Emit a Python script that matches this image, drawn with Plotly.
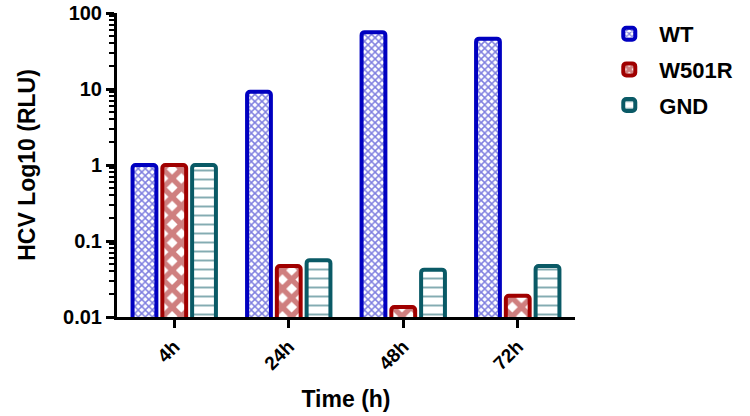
import plotly.graph_objects as go

# ── Data ──────────────────────────────────────────────────────────────────────
times = ["4h", "24h", "48h", "72h"]
wt = [1.0, 9.2, 56.0, 46.0]
w501r = [1.0, 0.047, 0.0135, 0.019]
gnd = [1.0, 0.056, 0.042, 0.047]

major_ticks = [0.01, 0.1, 1, 10, 100]
major_labels = ["0.01", "0.1", "1", "10", "100"]
# minor log ticks (2..9 within each decade), unlabeled
minor_ticks = [m * 10.0 ** e for e in range(-2, 2) for m in range(2, 10)]

# ── Styling ───────────────────────────────────────────────────────────────────
_SERIES = [
    ("WT", wt, "#0000c0", dict(shape="x", size=5, solidity=0.5)),
    ("W501R", w501r, "#a00000", dict(shape="x", size=13, solidity=0.65)),
    ("GND", gnd, "#0a5a66", dict(shape="-", size=9, solidity=0.22)),
]

fig = go.Figure()
for name, vals, color, pat in _SERIES:
    fig.add_trace(go.Bar(
        x=times,
        y=vals,
        name=name,
        legendgroup=name,
        marker=dict(
            color="white",
            line=dict(color=color, width=4),
            pattern=dict(fgcolor=color, bgcolor="white", fillmode="overlay", **pat),
            cornerradius=3,
        ),
    ))

bold = dict(family="Arial, Liberation Sans, sans-serif", color="black", weight="bold")

fig.update_layout(
    width=750,
    height=416,
    paper_bgcolor="white",
    plot_bgcolor="white",
    font=dict(**bold, size=19),
    margin=dict(l=117, r=170, t=13, b=99),
    barmode="group",
    bargap=0.22,
    bargroupgap=0.2,
    legend=dict(
        x=1.053, y=1.0, xanchor="left", yanchor="top",
        font=dict(**bold, size=22),
        itemwidth=50,
        tracegroupgap=4,
    ),
    xaxis=dict(
        title=dict(text="Time (h)", font=dict(**bold, size=23), standoff=18),
        automargin=False,
        tickangle=-45,
        tickfont=dict(**bold, size=19),
        ticks="outside", ticklen=8, tickwidth=3, tickcolor="black",
        showline=True, linewidth=3, linecolor="black",
        showgrid=False,
    ),
    yaxis=dict(
        type="log",
        range=[-2, 2],
        automargin=False,
        title=dict(text="HCV Log10 (RLU)", font=dict(**bold, size=23), standoff=22),
        tickmode="array",
        tickvals=major_ticks,
        ticktext=major_labels,
        tickfont=dict(**bold, size=20),
        ticks="outside", ticklen=8, tickwidth=3, tickcolor="black",
        minor=dict(ticks="outside", ticklen=5, tickwidth=2, tickcolor="black",
                   tickmode="array", tickvals=minor_ticks),
        showline=True, linewidth=3, linecolor="black",
        showgrid=False,
        zeroline=False,
    ),
)

fig.write_html(
    "out.html",
    config={"displayModeBar": False},
    post_script="document.body.style.margin='0';",
)
